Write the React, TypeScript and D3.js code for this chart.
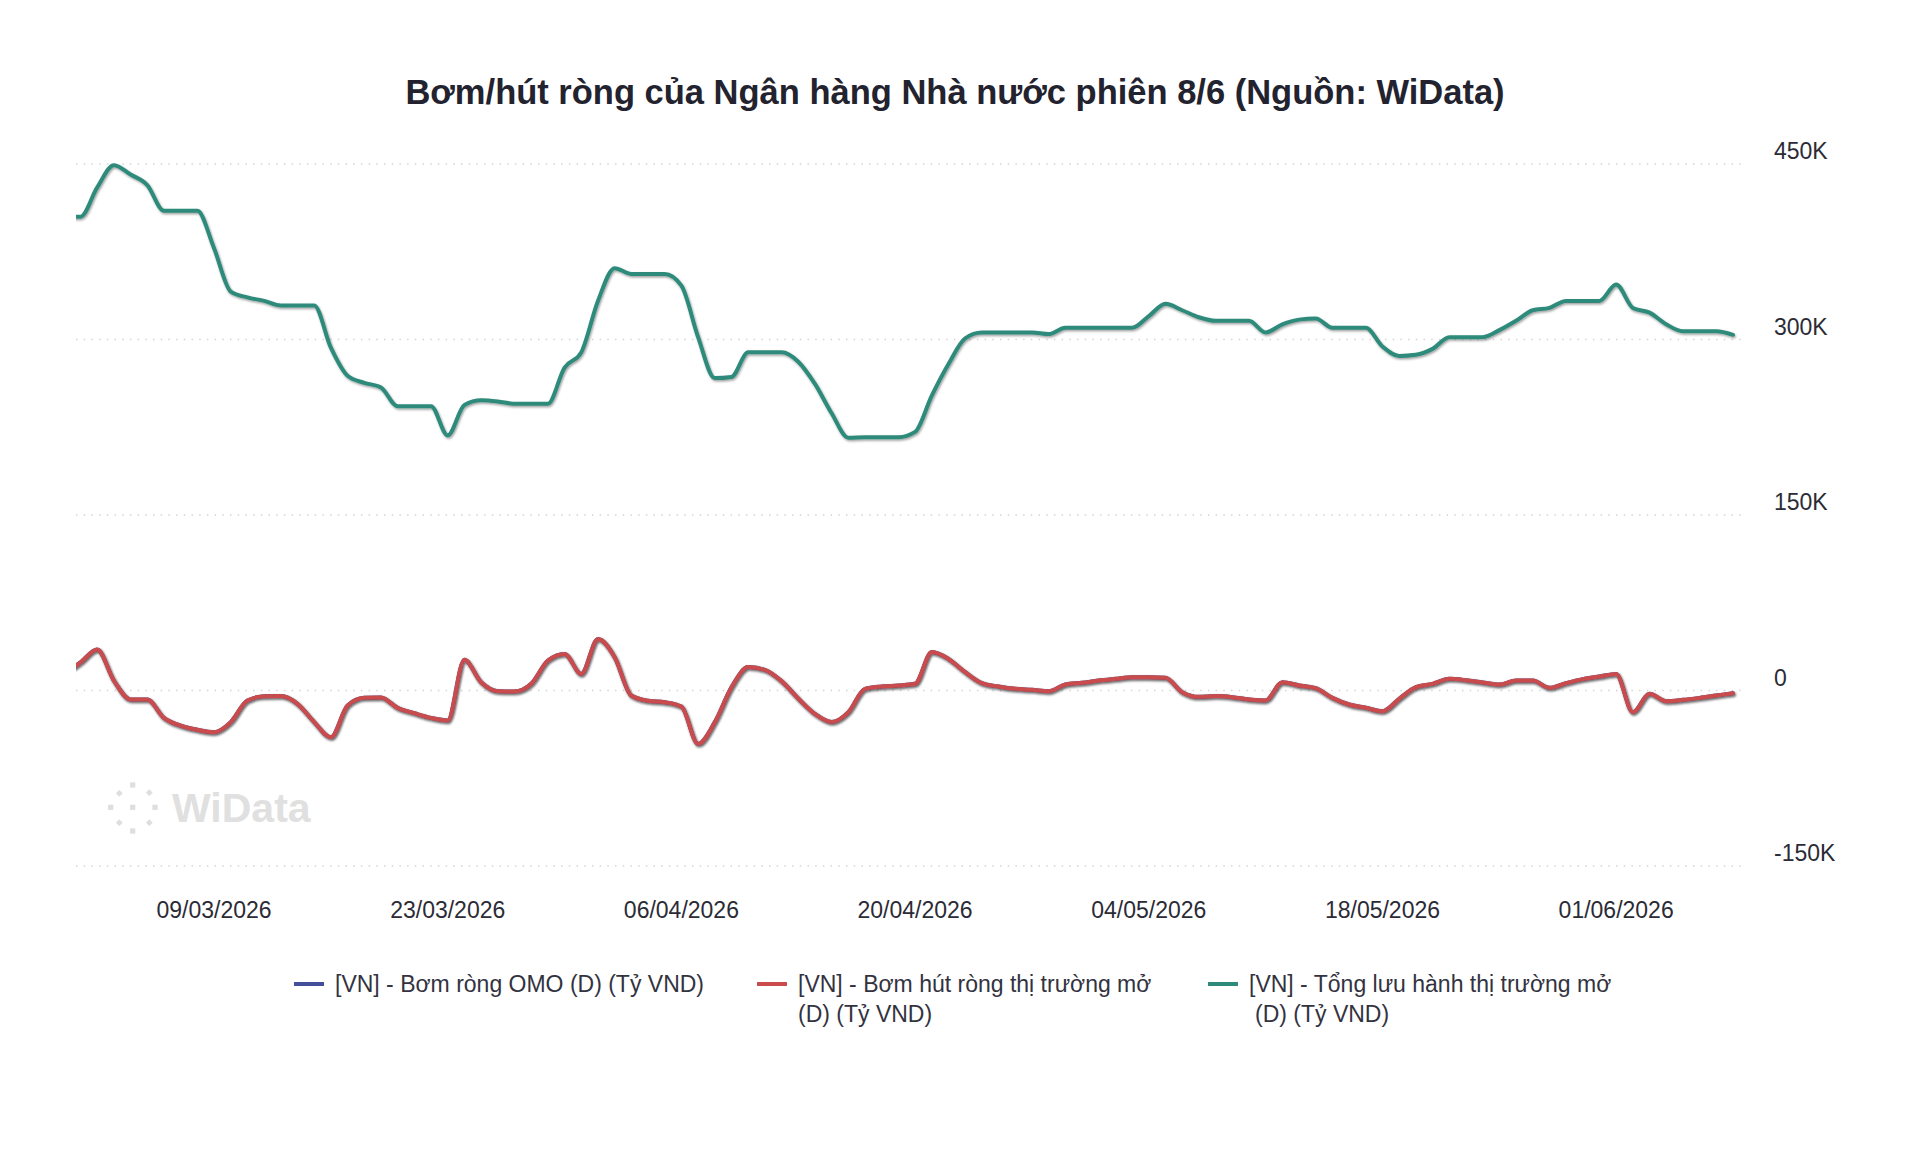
import React from "react";
import * as d3 from "d3";

// Daily series, 28/02/2026 → 08/06/2026 (weekends carry the Friday value), tỷ VND
const firstDay = "2026-02-28";
const lastDay = "2026-06-08";
const axisStart = "2026-03-01";

const totalOutstanding = [
  405000,
  405000, 430000, 449000, 441000, 432000, 410000, 410000, 410000, 378000, 341000,
  336000, 333000, 329000, 329000, 329000, 293000, 269000, 263000, 259000, 243000,
  243000, 243000, 218000, 244000, 248000, 247000, 245000, 245000, 245000, 276000,
  289000, 333000, 361000, 356000, 356000, 356000, 346000, 302000, 267000, 268000,
  289000, 289000, 289000, 281000, 262000, 237000, 216000, 216500, 216500, 216500,
  221000, 252000, 279000, 301000, 306000, 306000, 306000, 306000, 304600, 310000,
  310000, 310000, 310000, 310000, 320000, 330500, 325000, 319000, 316000, 316000,
  316000, 306000, 313000, 317000, 318000, 310000, 310000, 310000, 294000, 286000,
  287000, 292000, 302000, 302000, 302000, 308000, 316000, 325000, 327000, 333000,
  333000, 333000, 347000, 327000, 323000, 313000, 307000, 307000, 307000, 304000,
];

const openMarketNet = [
  14000,
  24000, 35000, 8500, -7700, -7700, -23400, -30000, -33600, -35600, -27000,
  -8500, -5000, -4800, -11400, -27000, -40000, -12800, -6300, -6000, -14800,
  -19400, -23400, -25600, 26200, 7000, -600, -900, 5700, 25600, 31300,
  14200, 44000, 28500, -4300, -8800, -10000, -13700, -45600, -27000, 2800,
  20000, 17700, 8000, -6800, -20000, -27000, -18500, 1400, 3400, 4300,
  5700, 32800, 27000, 15700, 6300, 3400, 1400, 600, -600, 5100,
  6600, 8500, 10000, 11400, 11400, 10800, -1400, -5400, -4800, -5700,
  -7700, -8500, 7100, 4300, 2000, -6300, -12000, -14800, -17700, -7100,
  2800, 5700, 10000, 8800, 6800, 5100, 8500, 8500, 2300, 6300,
  9700, 12000, 14200, -18500, -2800, -9100, -8000, -6300, -4300, -2300,
];

// OMO net injection equals the open-market net figure over this window
const omoNet = openMarketNet;

const xTickLabels = [
  "09/03/2026", "23/03/2026", "06/04/2026", "20/04/2026",
  "04/05/2026", "18/05/2026", "01/06/2026",
];
const yTicks = [-150000, 0, 150000, 300000, 450000];

const legendItems = [
  { lines: ["[VN] - Bơm ròng OMO (D) (Tỷ VND)"], color: "#444e9b", indent: 0 },
  { lines: ["[VN] - Bơm hút ròng thị trường mở", "(D) (Tỷ VND)"], color: "#c94b4c", indent: 0 },
  { lines: ["[VN] - Tổng lưu hành thị trường mở", "(D) (Tỷ VND)"], color: "#2e8a7a", indent: 6 },
];

const W = 1920;
const H = 1156;
const FONT = "'Liberation Sans', Arial, Helvetica, sans-serif";

const parseDay = d3.utcParse("%Y-%m-%d");
const parseLabel = d3.utcParse("%d/%m/%Y");

export default function App() {
  const days = d3.utcDay.range(parseDay(firstDay)!, d3.utcDay.offset(parseDay(lastDay)!, 1));

  const x = d3
    .scaleUtc()
    .domain([parseDay(axisStart)!, parseDay(lastDay)!])
    .range([80.5, 1733]);
  const y = d3.scaleLinear().domain([-150000, 450000]).range([866, 164]);

  const line = d3
    .line<number>()
    .x((_, i) => x(days[i]))
    .y((v) => y(v))
    .curve(d3.curveMonotoneX);

  const plotLeft = 76;
  const plotRight = 1747;

  const series = [
    { values: omoNet, color: legendItems[0].color },
    { values: openMarketNet, color: legendItems[1].color },
    { values: totalOutstanding, color: legendItems[2].color },
  ];

  const legendX = [294, 757, 1208];

  const wmDots: [number, number, string][] = [
    [132.7, 785, "sq"], [119.3, 793.3, "di"], [149.3, 792.7, "di"],
    [110.7, 807.3, "sq"], [132.7, 807.3, "sq"], [155, 807.3, "sq"],
    [119.3, 822.7, "di"], [149.3, 822.7, "di"], [132.7, 831, "sq"],
  ];

  return (
    <svg
      width={W}
      height={H}
      viewBox={`0 0 ${W} ${H}`}
      style={{ position: "absolute", left: 0, top: 0, background: "#fff" }}
      fontFamily={FONT}
    >
      <defs>
        <filter id="lineShadow" x="-5%" y="-20%" width="110%" height="140%">
          <feDropShadow dx="1" dy="1.5" stdDeviation="1.2" floodColor="#000" floodOpacity="0.38" />
        </filter>
        <clipPath id="plotClip">
          <rect x={plotLeft} y={120} width={plotRight - plotLeft} height={780} />
        </clipPath>
      </defs>

      <text x={955} y={104} textAnchor="middle" fontSize={34.5} fontWeight="bold" fill="#23232f">
        Bơm/hút ròng của Ngân hàng Nhà nước phiên 8/6 (Nguồn: WiData)
      </text>

      {/* watermark */}
      <g fill="#dedede">
        {wmDots.map(([cx, cy, kind], i) =>
          kind === "sq" ? (
            <rect key={i} x={cx - 2.6} y={cy - 2.6} width={5.2} height={5.2} />
          ) : (
            <rect key={i} x={cx - 2.4} y={cy - 2.4} width={4.8} height={4.8} transform={`rotate(45 ${cx} ${cy})`} />
          )
        )}
        <text x={172} y={822} fontSize={41} fontWeight={600} fill="#e0e0e0">
          WiData
        </text>
      </g>

      {/* grid + y labels */}
      {yTicks.map((t) => (
        <g key={t}>
          <line
            x1={plotLeft}
            x2={plotRight}
            y1={y(t)}
            y2={y(t)}
            stroke="#d4d4d4"
            strokeWidth={1.5}
            strokeDasharray="1.5 6.2"
          />
          <text x={1774} y={y(t) - 5} fontSize={23} fill="#2b2b36">
            {t === 0 ? "0" : `${t / 1000}K`}
          </text>
        </g>
      ))}

      {/* x labels */}
      {xTickLabels.map((s) => (
        <text key={s} x={x(parseLabel(s)!)} y={918} textAnchor="middle" fontSize={23} fill="#2b2b36">
          {s}
        </text>
      ))}

      {/* series */}
      <g clipPath="url(#plotClip)">
        {series.map((s, i) => (
          <path
            key={i}
            d={line(s.values) ?? ""}
            fill="none"
            stroke={s.color}
            strokeWidth={4}
            strokeLinejoin="round"
            strokeLinecap="round"
            filter="url(#lineShadow)"
          />
        ))}
      </g>

      {/* legend */}
      {legendItems.map((item, i) => (
        <g key={i}>
          <line x1={legendX[i]} x2={legendX[i] + 30} y1={984} y2={984} stroke={item.color} strokeWidth={4} />
          <text x={legendX[i] + 41} y={992} fontSize={23} fill="#33333f">
            {item.lines.map((l, j) => (
              <tspan key={j} x={legendX[i] + 41 + (j === 0 ? 0 : item.indent)} dy={j === 0 ? 0 : 30}>
                {l}
              </tspan>
            ))}
          </text>
        </g>
      ))}
    </svg>
  );
}
